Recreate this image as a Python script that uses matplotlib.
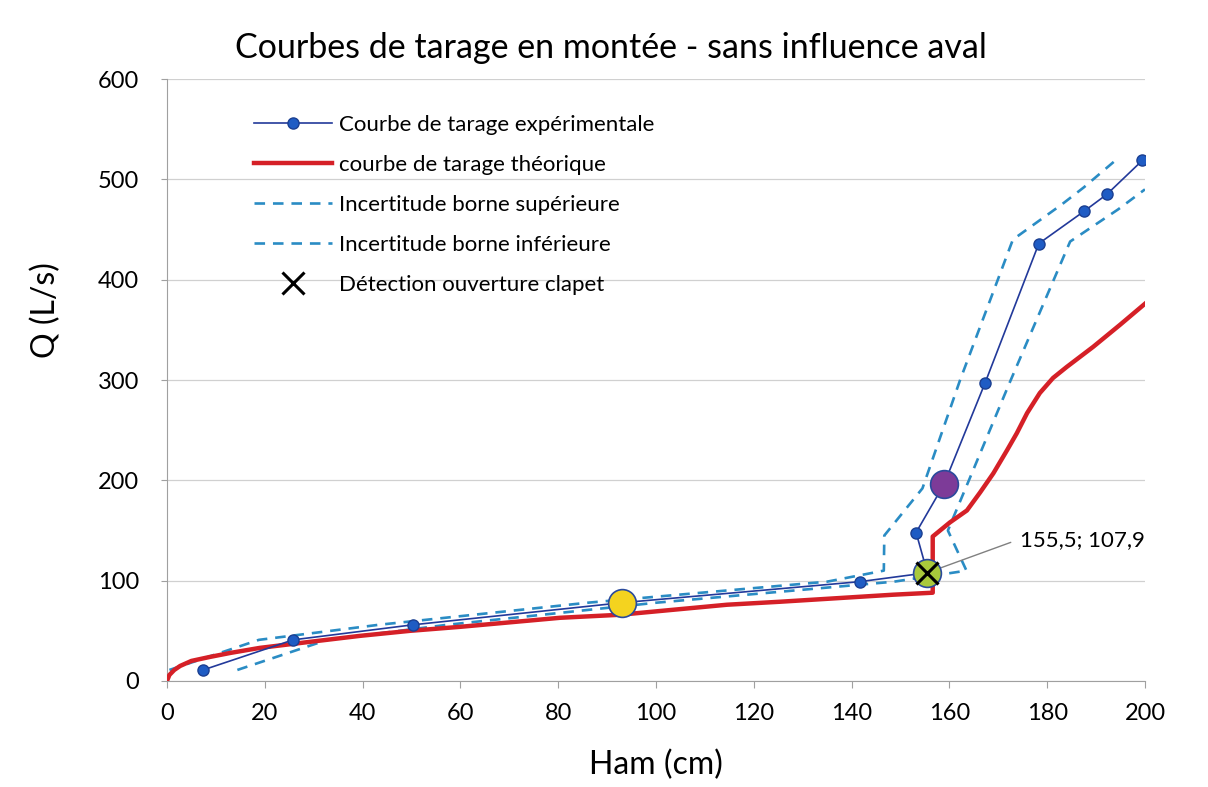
import numpy as np
import matplotlib
matplotlib.use('Agg')
import matplotlib.pyplot as plt

plt.rcParams['font.family'] = ['Lato', 'DejaVu Sans']

# %% data
# experimental rating curve (Ham in cm, Q in L/s)
h_exp = [7.4, 25.8, 50.3, 93.0, 141.7, 155.5, 153.2, 158.9, 167.3, 178.3, 187.5, 192.2, 199.5]
q_exp = [11, 41, 56, 78, 99, 107.9, 148, 196, 297, 436, 468, 485, 519]

# theoretical rating curve
h_theo = [0, 0.5, 1.5, 2.7, 5.0, 8.8, 13.0, 19.0, 29.2, 39.5, 49.7, 60.0, 80.4, 92.6,
          114.5, 125.4, 148.5, 156.6, 156.6, 160.1, 163.6, 166.3, 169.0, 171.8, 173.8,
          175.9, 178.5, 181.2, 184.0, 186.7, 189.4, 194.9, 200.0]
q_theo = [0, 6, 11, 15, 20, 24, 28, 33, 39, 45, 50, 54, 63, 66,
          76, 79, 86, 88, 144, 158, 170, 188, 207, 230, 247,
          267, 287, 302, 313, 323, 333, 355, 376]

# uncertainty bounds
h_sup = [0.5, 18.8, 43.3, 86.0, 135.0, 146.6, 146.7, 154.5, 162.2, 173.0, 183.0, 187.5, 194.0]
q_sup = [11, 41, 56, 78, 99, 110, 145, 192, 300, 440, 475, 492, 519]
h_inf = [14.4, 32.8, 57.3, 100.0, 148.7, 163.5, 159.7, 164.0, 172.3, 184.7, 194.5, 200.0]
q_inf = [11, 41, 56, 78, 99, 110, 150, 200, 297, 438, 470, 490]

# highlighted points
h_big = [93.0, 155.5, 158.9]
q_big = [78, 107.9, 196]
c_big = ['#f4d31f', '#a9c93b', '#7d3b98']

# valve opening detection
h_clapet = 155.5
q_clapet = 107.9

# %% plot
fig = plt.figure(figsize=(12.08, 7.87), dpi=100)
ax = fig.add_axes([0.1382, 0.1347, 0.8096, 0.7649])

ax.set_xlim(0, 200)
ax.set_ylim(0, 600)
ax.set_xticks(np.arange(0, 201, 20))
ax.set_yticks(np.arange(0, 601, 100))
ax.yaxis.grid(True, color='#d0d0d0', lw=0.9)
ax.set_axisbelow(True)
for s in ['top', 'right']:
    ax.spines[s].set_visible(False)
for s in ['left', 'bottom']:
    ax.spines[s].set_color('#a0a0a0')
ax.tick_params(axis='x', length=5, color='#a0a0a0', labelsize=17, pad=11)
ax.tick_params(axis='y', length=4, color='#a0a0a0', labelsize=17, pad=16)

dash_col = '#2a8cc4'
ax.plot(h_sup, q_sup, color=dash_col, lw=1.9, dashes=(4, 3),
        label='Incertitude borne supérieure', zorder=2)
ax.plot(h_inf, q_inf, color=dash_col, lw=1.9, dashes=(4, 3),
        label='Incertitude borne inférieure', zorder=2)
ax.plot(h_theo, q_theo, color='#d52027', lw=3.2,
        label='courbe de tarage théorique', zorder=3)
ax.plot(h_exp, q_exp, color='#22399a', lw=1.2, marker='o', ms=8,
        mfc='#1f5cc4', mec='#1b3f91', label='Courbe de tarage expérimentale', zorder=4)
for h, q, c in zip(h_big, q_big, c_big):
    ax.plot(h, q, 'o', ms=20, mfc=c, mec='#2a4a9c', mew=1.2, zorder=5)
ax.plot(h_clapet, q_clapet, 'x', color='black', ms=16, mew=2.2,
        label='Détection ouverture clapet', zorder=6)

ax.annotate('155,5; 107,9', xy=(h_clapet, q_clapet), xytext=(174.5, 140),
            ha='left', va='center', fontsize=16,
            arrowprops=dict(arrowstyle='-', color='#808080', lw=1,
                            relpos=(0, 0.5), shrinkA=5, shrinkB=0,
                            connectionstyle='angle,angleA=0,angleB=20,rad=0'))

handles, labels = ax.get_legend_handles_labels()
order = [3, 2, 0, 1, 4]
leg = ax.legend([handles[i] for i in order], [labels[i] for i in order],
                loc='upper left', bbox_to_anchor=(0.08, 0.955), frameon=False,
                fontsize=16, handlelength=3.5, handletextpad=0.3,
                labelspacing=0.9, borderaxespad=0)
leg.set_zorder(10)

ax.set_xlabel('Ham (cm)', fontsize=23, va='center')
ax.xaxis.set_label_coords(0.5, -0.14)
ax.set_ylabel('Q (L/s)', fontsize=23)
ax.yaxis.set_label_coords(-0.108, 0.616)

fig.text(0.506, 0.939, 'Courbes de tarage en montée - sans influence aval',
         ha='center', va='center', fontsize=24.5)

fig.savefig('out.png', dpi=100)
